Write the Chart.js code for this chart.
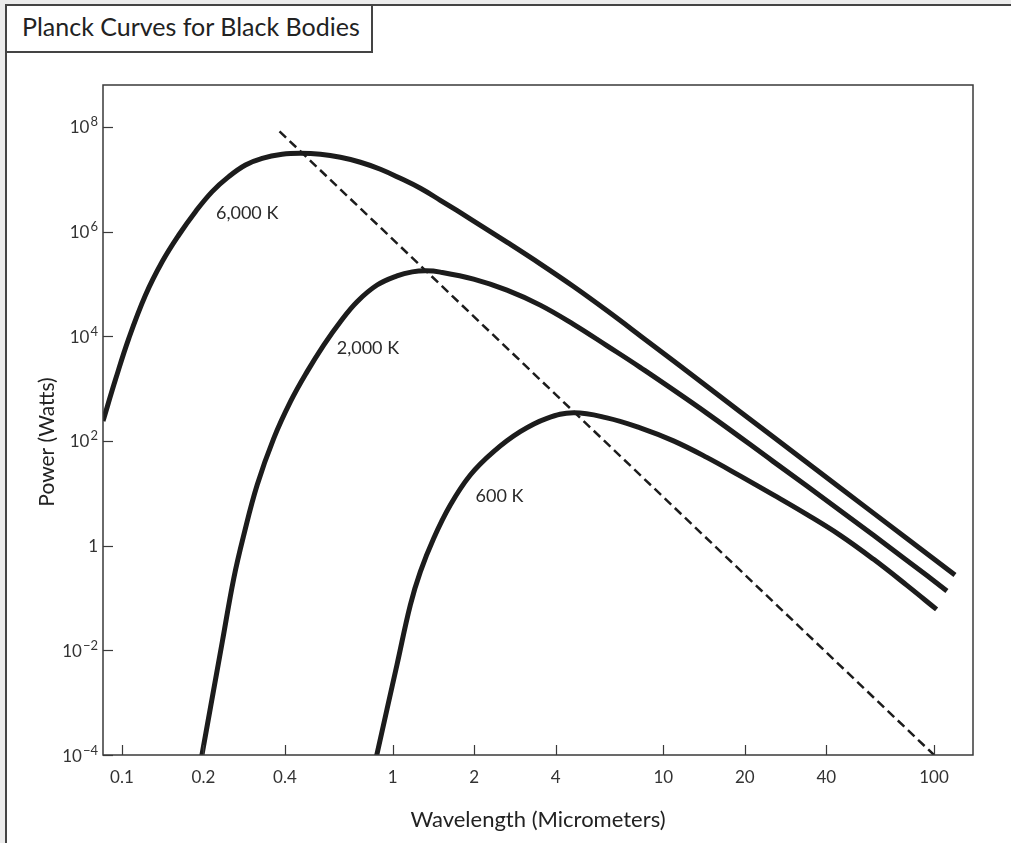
<!DOCTYPE html>
<html>
<head>
<meta charset="utf-8">
<script src="https://cdn.jsdelivr.net/npm/chart.js@4.4.0/dist/chart.umd.min.js"></script>
<style>
  html, body { margin:0; padding:0; width:1011px; height:843px; overflow:hidden; background:#ececec; }
  #frame { position:absolute; left:5px; top:4px; width:1020px; height:860px; background:#fff;
           border-left:2px solid #444; border-top:2px solid #444; }
  #titlebox { position:absolute; left:5px; top:4px; width:368px; height:49px; box-sizing:border-box;
              border:2px solid #444; background:#fff; }
  #title { position:absolute; left:22px; top:14px; font-family:Lato, "Open Sans", sans-serif; font-size:25px;
           line-height:25px; color:#222; white-space:nowrap; }
  #c { position:absolute; left:0; top:0; }
</style>
</head>
<body>
<div id="frame"></div>
<div id="titlebox"></div>
<div id="title">Planck Curves for Black Bodies</div>
<canvas id="c" width="1011" height="843"></canvas>
<script>
// ---- Data ----
// Wavelength (micrometers) and power (watts) for each temperature curve
const wl6000 = [0.0851, 0.0947, 0.106, 0.1222, 0.1409, 0.1622, 0.1869, 0.2154, 0.248, 0.286, 0.3296, 0.3906, 0.4563, 0.541, 0.641, 0.760, 0.901, 1.068, 1.266, 1.500, 1.986, 2.651, 3.509, 4.645, 6.20, 8.21, 14.51, 25.43, 44.96, 79.4, 119.5];
const pw6000 = [240, 1502, 9120, 61300, 2.67e5, 8.6e5, 2.40e6, 5.80e6, 1.12e7, 1.87e7, 2.51e7, 2.99e7, 3.12e7, 2.99e7, 2.62e7, 2.11e7, 1.55e7, 1.04e7, 6.71e6, 3.96e6, 1.605e6, 6.20e5, 2.41e5, 89900, 30600, 10270, 1094, 120, 12.8, 1.362, 0.2734];

const wl2000 = [0.1964, 0.2123, 0.2351, 0.2588, 0.2818, 0.3158, 0.3637, 0.4192, 0.4831, 0.5563, 0.641, 0.739, 0.876, 1.038, 1.182, 1.331, 1.500, 1.991, 2.644, 3.509, 4.658, 6.20, 8.21, 14.51, 25.43, 44.96, 79.4, 111.6];
const pw2000 = [8.6e-5, 8.10e-4, 0.01511, 0.2366, 1.59, 14.4, 112, 563, 2110, 6790, 19000, 45800, 95300, 1.427e5, 1.70e5, 1.778e5, 1.68e5, 1.234e5, 76060, 39320, 16890, 6556, 2546, 336.5, 40.7, 4.71, 0.522, 0.1365];

const wl600 = [0.868, 0.9535, 1.038, 1.162, 1.266, 1.417, 1.633, 1.936, 2.36, 2.96, 3.715, 4.658, 6.186, 8.21, 10.90, 14.47, 19.21, 25.5, 33.86, 44.9, 59.66, 79.2, 102.2];
const pw600 = [8.6e-5, 7.59e-4, 5.37e-3, 0.0731, 0.318, 1.37, 5.95, 22.3, 62.4, 150, 270, 343.9, 276, 177.7, 100.3, 48.5, 21.5, 9.32, 3.95, 1.589, 0.553, 0.176, 0.0605];

// Dashed line through the peaks
const peakLineWl = [0.382, 100];
const peakLinePw = [8.2e7, 1.0e-4];

// Curve labels (text, wavelength, power)
const curveLabels = ['6,000 K', '2,000 K', '600 K'];
const curveLabelWl = [0.29, 0.81, 2.48];
const curveLabelPw = [2.23e6, 5870, 8.73];

// Ticks
const xTickValues = [0.1, 0.2, 0.4, 1, 2, 4, 10, 20, 40, 100];
const xTickLabels = ['0.1', '0.2', '0.4', '1', '2', '4', '10', '20', '40', '100'];
const yTickValues = [1e-4, 1e-2, 1, 1e2, 1e4, 1e6, 1e8];
const yTickBase = ['10', '10', '1', '10', '10', '10', '10'];
const yTickExp = ['\u22124', '\u22122', '', '2', '4', '6', '8'];

const xTitle = 'Wavelength (Micrometers)';
const yTitle = 'Power (Watts)';

const FONT = 'Lato, "Open Sans", sans-serif';
const INK = '#1c1c1c';

function pts(xs, ys) { return xs.map((v, i) => ({ x: v, y: ys[i] })); }

const overlay = {
  id: 'overlay',
  afterDraw(chart) {
    const { ctx, chartArea: a, scales: { x, y } } = chart;
    ctx.save();
    // plot box
    ctx.strokeStyle = '#3a3a3a';
    ctx.lineWidth = 1.5;
    ctx.strokeRect(a.left, a.top, a.right - a.left, a.bottom - a.top);
    // inward tick marks
    ctx.lineWidth = 1.2;
    xTickValues.forEach(v => {
      const px = Math.round(x.getPixelForValue(v)) + 0.5;
      ctx.beginPath(); ctx.moveTo(px, a.bottom); ctx.lineTo(px, a.bottom - 10); ctx.stroke();
    });
    yTickValues.forEach(v => {
      const py = Math.round(y.getPixelForValue(v)) + 0.5;
      ctx.beginPath(); ctx.moveTo(a.left, py); ctx.lineTo(a.left + 10, py); ctx.stroke();
    });
    // y tick labels with superscript exponents
    ctx.fillStyle = '#333';
    ctx.textAlign = 'left';
    ctx.textBaseline = 'alphabetic';
    yTickValues.forEach((v, i) => {
      const py = y.getPixelForValue(v);
      const base = yTickBase[i], exp = yTickExp[i];
      ctx.font = '17px ' + FONT;
      const wb = ctx.measureText(base).width;
      ctx.font = '13px ' + FONT;
      const we = exp ? ctx.measureText(exp).width + 1 : 0;
      const right = a.left - 5;
      const xb = right - we - wb;
      ctx.font = '17px ' + FONT;
      ctx.fillText(base, xb, py + 6.5);
      if (exp) { ctx.font = '13px ' + FONT; ctx.fillText(exp, xb + wb + 1, py - 0.5); }
    });
    // curve labels
    ctx.fillStyle = '#2a2a2a';
    ctx.font = '18px ' + FONT;
    ctx.textAlign = 'center';
    ctx.textBaseline = 'middle';
    curveLabels.forEach((t, i) => {
      ctx.fillText(t, x.getPixelForValue(curveLabelWl[i]), y.getPixelForValue(curveLabelPw[i]));
    });
    // axis titles
    ctx.fillStyle = '#222';
    ctx.textAlign = 'center';
    ctx.textBaseline = 'alphabetic';
    ctx.font = '22px ' + FONT;
    ctx.fillText(xTitle, (a.left + a.right) / 2, 827);
    ctx.save();
    ctx.font = '21px ' + FONT;
    ctx.translate(54, 442);
    ctx.rotate(-Math.PI / 2);
    ctx.fillText(yTitle, 0, 0);
    ctx.restore();
    ctx.restore();
  }
};

const curveStyle = { borderColor: INK, borderWidth: 5, pointRadius: 0, showLine: true, fill: false,
                     tension: 0.4, borderCapStyle: 'butt', borderJoinStyle: 'round' };

new Chart(document.getElementById('c'), {
  type: 'scatter',
  data: {
    datasets: [
      Object.assign({ label: '6,000 K', data: pts(wl6000, pw6000) }, curveStyle),
      Object.assign({ label: '2,000 K', data: pts(wl2000, pw2000) }, curveStyle),
      Object.assign({ label: '600 K', data: pts(wl600, pw600) }, curveStyle),
      { label: 'Peak', data: pts(peakLineWl, peakLinePw), borderColor: INK, borderWidth: 2.5,
        borderDash: [9, 5], pointRadius: 0, showLine: true, fill: false, tension: 0 }
    ]
  },
  options: {
    responsive: false,
    animation: false,
    devicePixelRatio: 1,
    layout: { padding: { left: 0, top: 85, right: 38, bottom: 0 } },
    plugins: { legend: { display: false }, tooltip: { enabled: false }, title: { display: false } },
    scales: {
      x: {
        type: 'logarithmic',
        min: 0.0851, max: 139.3,
        afterBuildTicks: s => { s.ticks = xTickValues.map(v => ({ value: v })); },
        afterFit: s => { s.height = 88; },
        grid: { display: false, drawTicks: false },
        border: { display: false },
        ticks: {
          autoSkip: false, maxRotation: 0, padding: 12, color: '#333',
          font: { family: FONT, size: 17 },
          callback: (v) => { const i = xTickValues.indexOf(v); return i >= 0 ? xTickLabels[i] : ''; }
        },
        title: { display: false }
      },
      y: {
        type: 'logarithmic',
        min: 1e-4, max: 6.31e8,
        afterBuildTicks: s => { s.ticks = yTickValues.map(v => ({ value: v })); },
        afterFit: s => { s.width = 103; },
        grid: { display: false, drawTicks: false },
        border: { display: false },
        ticks: { display: false },
        title: { display: false }
      }
    }
  },
  plugins: [overlay]
});
</script>
</body>
</html>
